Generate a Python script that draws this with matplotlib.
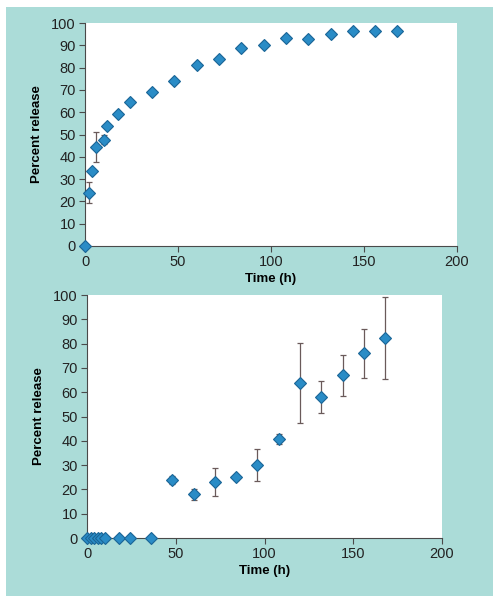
import matplotlib
matplotlib.use("Agg")
import matplotlib.pyplot as plt
from matplotlib.patches import Rectangle

# top panel
tempo1 = [0, 2, 4, 6, 10, 12, 18, 24, 36, 48, 60, 72, 84, 96, 108, 120, 132, 144, 156, 168]
lib1 = [0, 23.9, 33.8, 44.3, 47.6, 54, 59.2, 64.8, 69.1, 74, 81.2, 83.9, 89, 90.3, 93.4, 92.9, 94.9, 96.6, 96.3, 96.3]
erro1 = [0, 4.7, 0, 6.8, 2, 0, 0, 0, 0, 0, 0, 0, 0, 0, 0, 0, 0, 0, 0, 0]

# bottom panel
tempo2 = [0, 2, 4, 6, 8, 10, 18, 24, 36, 48, 60, 72, 84, 96, 108, 120, 132, 144, 156, 168]
lib2 = [0, 0, 0, 0, 0, 0, 0, 0, 0, 24, 18, 23, 25, 30, 40.8, 63.8, 58, 67, 76, 82.2]
erro2 = [0, 0, 0, 0, 0, 0, 0, 0, 0, 1.7, 2.3, 5.7, 1, 6.7, 2, 16.5, 6.6, 8.4, 10, 16.9]

xticks = [0, 50, 100, 150, 200]
yticks = [0, 10, 20, 30, 40, 50, 60, 70, 80, 90, 100]

plt.rcParams['font.family'] = ['Liberation Sans', 'DejaVu Sans']
plt.rcParams['font.size'] = 9

fig = plt.figure(figsize=(5, 6.01), dpi=100)
fundo = Rectangle((0.012, 0.0083), 0.974, 0.98, transform=fig.transFigure,
                  facecolor="#abdcd8", edgecolor="none", zorder=-10)
fig.add_artist(fundo)

cinza = "#4a4a4a"

def painel(ax, t, y, e):
    ax.errorbar(t, y, yerr=e, fmt="none", ecolor="#6a5a5a", elinewidth=0.9,
                capsize=2.5, capthick=0.9, clip_on=False, zorder=2)
    ax.plot(t, y, "D", color="#2a8cc6", markeredgecolor="#1a6596", markersize=6.5,
            markeredgewidth=0.8, clip_on=False, zorder=3)
    ax.set_xlim(0, 200)
    ax.set_ylim(0, 100)
    ax.set_xticks(xticks)
    ax.set_yticks(yticks)
    ax.spines["top"].set_visible(False)
    ax.spines["right"].set_visible(False)
    ax.spines["left"].set_color(cinza)
    ax.spines["bottom"].set_color(cinza)
    ax.tick_params(direction="out", length=4.5, width=0.8, color=cinza,
                   labelcolor="#222222", labelsize=10.5, pad=2)
    ax.set_xlabel("Time (h)", fontweight="bold", fontsize=9.5, labelpad=3)
    ax.set_ylabel("Percent release", fontweight="bold", fontsize=9.5, labelpad=6)

ax1 = fig.add_axes([0.17, 0.5907, 0.744, 0.371])
painel(ax1, tempo1, lib1, erro1)

ax2 = fig.add_axes([0.174, 0.1048, 0.71, 0.4043])
painel(ax2, tempo2, lib2, erro2)

fig.savefig("out.png", dpi=100)
